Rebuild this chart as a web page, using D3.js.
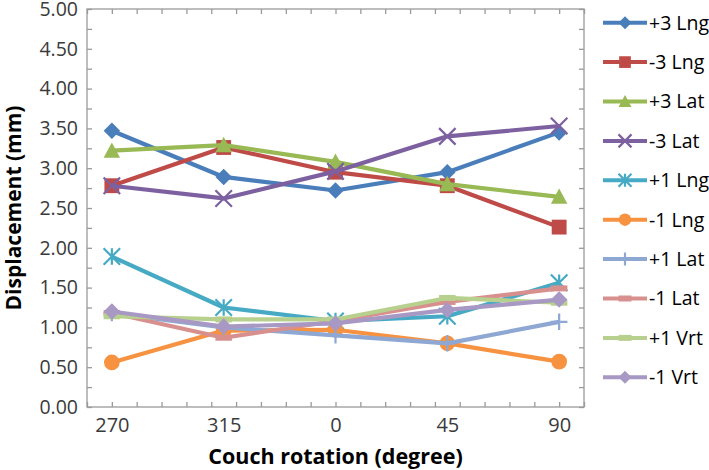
<!DOCTYPE html>
<html><head><meta charset="utf-8">
<script src="https://cdn.jsdelivr.net/npm/d3@7"></script>
<style>body{margin:0;background:#fff}svg{display:block}text{font-family:"Open Sans",sans-serif}</style>
</head><body><svg id="c" width="709" height="470"></svg>
<script>
// ---- data ----
const categories = ["270", "315", "0", "45", "90"];
const angles = [270, 315, 360, 405, 450];           // unwrapped couch angle
const seriesNames = ["+3 Lng","-3 Lng","+3 Lat","-3 Lat","+1 Lng","-1 Lng","+1 Lat","-1 Lat","+1 Vrt","-1 Vrt"];
const p3Lng = [3.47, 2.89, 2.72, 2.95, 3.45];
const m3Lng = [2.78, 3.26, 2.95, 2.78, 2.26];
const p3Lat = [3.22, 3.29, 3.08, 2.80, 2.64];
const m3Lat = [2.78, 2.62, 2.96, 3.40, 3.53];
const p1Lng = [1.89, 1.25, 1.08, 1.14, 1.56];
const m1Lng = [0.56, 0.96, 0.97, 0.80, 0.57];
const p1Lat = [1.18, 1.00, 0.90, 0.80, 1.07];
const m1Lat = [1.18, 0.87, 1.08, 1.32, 1.49];
const p1Vrt = [1.14, 1.10, 1.10, 1.37, 1.31];
const m1Vrt = [1.20, 1.01, 1.05, 1.22, 1.35];
const yTicks = [0,0.5,1,1.5,2,2.5,3,3.5,4,4.5,5];
const colors = ["#4A7EBB","#BE4B48","#98B954","#7D60A0","#46AAC5","#F69240","#8EA8D3","#D8908E","#B8D08E","#A898C4"];
const markers = ["diamond","square","triangle","x","asterisk","circle","plus","dash","dash","diamond"];
const values = [p3Lng,m3Lng,p3Lat,m3Lat,p1Lng,m1Lng,p1Lat,m1Lat,p1Vrt,m1Vrt];

// ---- layout ----
const L = 87, R = 584, T = 9, B = 407;
const svg = d3.select("#c");
const x = d3.scaleLinear().domain([260, 460]).range([L, R]);
const y = d3.scaleLinear().domain([0, 5]).range([B, T]);
const axisColor = "#9A9A9A", labelColor = "#3A3A3A";

// frame
svg.append("rect").attr("x", L).attr("y", T).attr("width", R - L).attr("height", B - T)
  .attr("fill", "none").attr("stroke", axisColor).attr("stroke-width", 1.3);

const xMinor = d3.range(260, 461, 10);
const yMinor = d3.range(0, 5.001, 0.25);
const tl = 5;
function styleTicks(g) { g.select(".domain").remove(); g.selectAll("line").attr("stroke", axisColor).attr("stroke-width", 1.3); }
svg.append("g").attr("transform", `translate(0,${B})`)
  .call(d3.axisBottom(x).tickValues(xMinor).tickSize(-tl).tickFormat("")).call(styleTicks);
svg.append("g").attr("transform", `translate(0,${T})`)
  .call(d3.axisTop(x).tickValues(xMinor).tickSize(-tl).tickFormat("")).call(styleTicks);
svg.append("g").attr("transform", `translate(${L},0)`)
  .call(d3.axisLeft(y).tickValues(yMinor).tickSize(-tl).tickFormat("")).call(styleTicks);
svg.append("g").attr("transform", `translate(${R},0)`)
  .call(d3.axisRight(y).tickValues(yMinor).tickSize(-tl).tickFormat("")).call(styleTicks);

// tick labels
svg.append("g").attr("transform", `translate(0,${B})`)
  .call(d3.axisBottom(x).tickValues(angles).tickSize(0).tickPadding(11).tickFormat((d, i) => categories[i]))
  .call(g => { g.select(".domain").remove(); g.selectAll("text").attr("fill", labelColor).style("font-size", "20px").style("font-family", "Open Sans"); });
svg.append("g").attr("transform", `translate(${L},0)`)
  .call(d3.axisLeft(y).tickValues(yTicks).tickSize(0).tickPadding(9).tickFormat(d3.format(".2f")))
  .call(g => { g.select(".domain").remove(); g.selectAll("text").attr("fill", labelColor).style("font-size", "19.5px").style("font-family", "Open Sans"); });

// axis titles
svg.append("text").attr("x", (L + R) / 2).attr("y", 464).attr("text-anchor", "middle")
  .attr("font-weight", "bold").attr("font-size", 21.5).attr("fill", "#000").text("Couch rotation (degree)");
svg.append("text").attr("transform", `translate(21,${(T + B) / 2}) rotate(-90)`).attr("text-anchor", "middle")
  .attr("font-weight", "bold").attr("font-size", 21).attr("fill", "#000").text("Displacement (mm)");

// marker drawer
function drawMarker(g, type, color, s) {
  const h = s / 2;
  if (type === "diamond") g.append("path").attr("d", `M0,${-h}L${h},0L0,${h}L${-h},0Z`).attr("fill", color);
  else if (type === "square") g.append("rect").attr("x", -h * 0.9).attr("y", -h * 0.9).attr("width", s * 0.9).attr("height", s * 0.9).attr("fill", color);
  else if (type === "triangle") g.append("path").attr("d", `M0,${-h}L${h},${h * 0.85}L${-h},${h * 0.85}Z`).attr("fill", color);
  else if (type === "circle") g.append("circle").attr("r", h * 0.95).attr("fill", color);
  else if (type === "x") g.append("path").attr("d", `M${-h},${-h}L${h},${h}M${-h},${h}L${h},${-h}`).attr("stroke", color).attr("stroke-width", 2.2);
  else if (type === "asterisk") g.append("path").attr("d", `M${-h},${-h}L${h},${h}M${-h},${h}L${h},${-h}M0,${-h}L0,${h}`).attr("stroke", color).attr("stroke-width", 2.2);
  else if (type === "plus") g.append("path").attr("d", `M${-h},0L${h},0M0,${-h}L0,${h}`).attr("stroke", color).attr("stroke-width", 2.2);
  else if (type === "dash") g.append("rect").attr("x", -h).attr("y", -3).attr("width", s).attr("height", 6).attr("fill", color);
}

// series
const line = d3.line().x((d, i) => x(angles[i])).y(d => y(d));
values.forEach((vals, si) => {
  const g = svg.append("g");
  g.append("path").datum(vals).attr("d", line).attr("fill", "none")
    .attr("stroke", colors[si]).attr("stroke-width", 4.2).attr("stroke-linejoin", "round");
  vals.forEach((v, i) => {
    const mg = g.append("g").attr("transform", `translate(${x(angles[i])},${y(v)})`);
    drawMarker(mg, markers[si], colors[si], 16.5);
  });
});

// legend
const lg = svg.append("g");
seriesNames.forEach((name, i) => {
  const ly = 22.7 + i * 39.4;
  const e = lg.append("g").attr("transform", `translate(0,${ly})`);
  e.append("line").attr("x1", 603).attr("x2", 647).attr("stroke", colors[i]).attr("stroke-width", 4);
  const mg = e.append("g").attr("transform", "translate(625,0)");
  drawMarker(mg, markers[i], colors[i], 13);
  e.append("text").attr("x", 649).attr("dy", "0.35em").attr("font-size", 19.5).attr("fill", "#000").text(name);
});
</script></body></html>
